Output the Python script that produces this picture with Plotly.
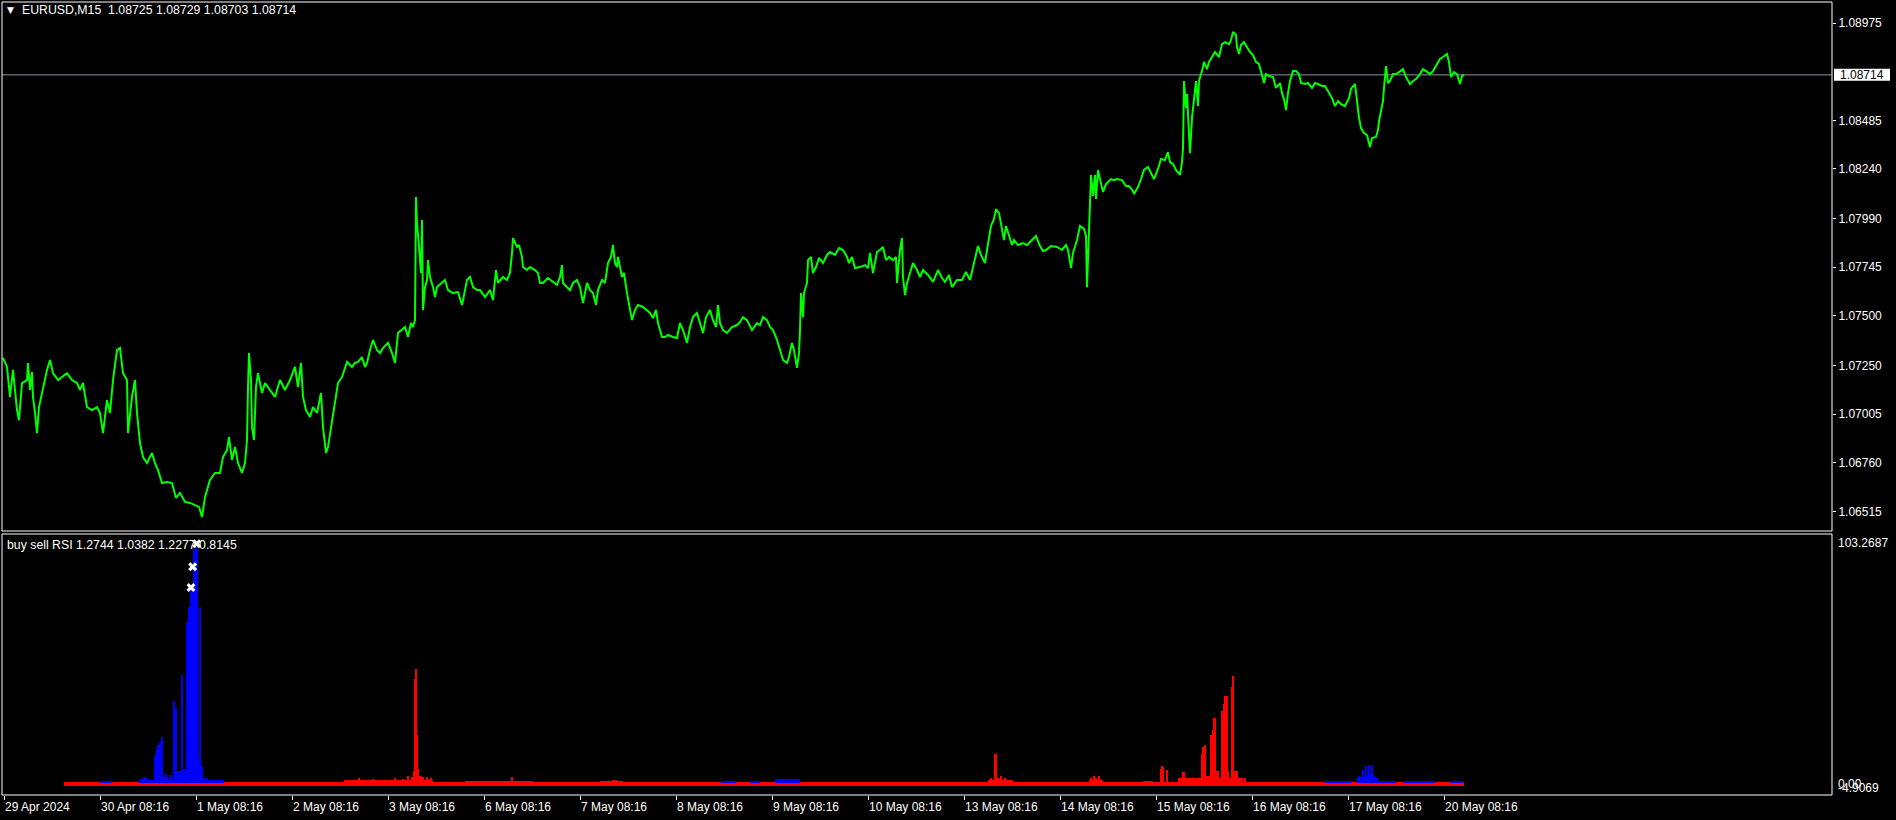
import plotly.graph_objects as go

# ---------------- data ----------------
# bar index (M15 bars from the left edge) and close prices
price_bar = [0, 4, 7, 10, 14, 16, 19, 24, 25, 27, 29, 30, 32, 34, 36, 40, 44, 47, 50, 55, 59, 64, 69, 74, 77, 80, 84, 89, 94, 97,
             100, 104, 107, 110, 114, 117, 120, 124, 125, 129, 132, 134, 137, 140, 144, 149, 152, 155, 159, 164, 169, 173, 177, 182, 187, 192, 196, 199, 202, 207,
             212, 217, 220, 224, 226, 229, 232, 235, 239, 242, 244, 245, 246, 248, 249, 251, 253, 255, 259, 262, 267, 272, 277, 282, 287, 292, 295, 298, 300, 303,
             307, 310, 314, 318, 320, 323, 325, 329, 332, 335, 339, 344, 349, 352, 355, 359, 362, 364, 367, 370, 374, 377, 380, 385, 389, 392, 395, 399, 402, 405,
             408, 410, 412, 413, 414, 416, 418, 419, 420, 422, 424, 425, 427, 430, 432, 434, 439, 442, 445, 450, 455, 459, 462, 464, 467, 470, 474,
             477, 482, 487, 490, 493, 495, 500, 504, 507, 509, 510, 514, 516, 519, 520, 524, 527, 532, 535, 537, 540, 545, 550, 554, 557, 559, 560, 564, 567, 570,
             574, 577, 580, 582, 584, 587, 590, 593, 595, 599, 602, 605, 608, 610, 612, 614, 615, 619, 621, 624, 626, 629, 632, 635, 640, 644, 647, 650, 653, 655,
             659, 662, 665, 670, 674, 677, 680, 684, 687, 690, 694, 697, 700, 703, 707, 710, 713, 715, 717, 720, 724, 729, 734, 737, 740, 744, 749, 754, 757, 760,
             764, 767, 770, 774, 777, 780, 784, 786, 789, 791, 794, 796, 797, 798, 800, 801, 804, 805, 808, 810, 813, 816, 820, 824, 827, 832, 836, 840, 844, 846,
             849, 852, 857, 862, 865, 867, 870, 874, 877, 880, 883, 886, 890, 893, 894, 897, 899, 900, 902, 904, 907, 910, 914, 917, 920, 925, 930, 935, 939, 942, 946,
             949, 954, 959, 963, 967, 971, 975, 978, 982, 984, 988, 991, 993, 996, 998, 1001, 1003, 1006, 1009, 1011, 1015, 1020, 1024, 1028, 1033, 1037, 1040, 1043, 1048, 1054,
             1059, 1063, 1065, 1068, 1070, 1074, 1077, 1081, 1083, 1084, 1086, 1087, 1088, 1090, 1092, 1093, 1095, 1097, 1100, 1103, 1108, 1111, 1114, 1119, 1123, 1126, 1130, 1131, 1135, 1138,
             1141, 1145, 1148, 1151, 1155, 1158, 1162, 1165, 1167, 1170, 1173, 1177, 1179, 1180, 1181, 1183, 1184, 1186, 1187, 1189, 1190, 1193, 1195, 1196, 1199, 1201, 1204, 1206, 1209, 1212,
             1216, 1219, 1222, 1226, 1228, 1230, 1233, 1234, 1236, 1238, 1241, 1244, 1247, 1250, 1253, 1256, 1259, 1261, 1263, 1266, 1270, 1273, 1277, 1279, 1281, 1283, 1285, 1287, 1290, 1293,
             1296, 1298, 1302, 1305, 1309, 1312, 1315, 1319, 1322, 1326, 1329, 1332, 1335, 1338, 1342, 1346, 1348, 1352, 1354, 1356, 1358, 1361, 1364, 1367, 1369, 1373, 1375, 1376, 1378, 1380,
             1381, 1383, 1385, 1387, 1390, 1393, 1396, 1400, 1403, 1407, 1410, 1413, 1417, 1420, 1423, 1427, 1430, 1434, 1437, 1440, 1444, 1446, 1448, 1451, 1454, 1457, 1459, 1461]

price_close = [1.07288, 1.07243, 1.07092, 1.07228, 1.07026, 1.06976, 1.07162, 1.07177, 1.07263, 1.07127, 1.07217, 1.07092, 1.07011, 1.06910, 1.07041, 1.07142, 1.07228, 1.07278, 1.07212, 1.07177,
               1.07192, 1.07212, 1.07177, 1.07162, 1.07127, 1.07162, 1.07041, 1.07026, 1.07041, 1.07011,
               1.06910, 1.07076, 1.07011, 1.07177, 1.07328, 1.07338, 1.07212, 1.07177, 1.06910, 1.07092, 1.07177, 1.07011, 1.06860, 1.06789, 1.06759, 1.06810, 1.06759, 1.06724, 1.06658, 1.06663,
               1.06658, 1.06583, 1.06608, 1.06563, 1.06558, 1.06548, 1.06538, 1.06487, 1.06588, 1.06674,
               1.06709, 1.06709, 1.06789, 1.06825, 1.06890, 1.06774, 1.06840, 1.06759, 1.06709, 1.06759, 1.06875, 1.07142, 1.07313, 1.07177, 1.06940, 1.06875, 1.07142, 1.07212, 1.07112, 1.07162,
               1.07127, 1.07092, 1.07177, 1.07127, 1.07177, 1.07243, 1.07142, 1.07263, 1.07092, 1.07026,
               1.06991, 1.07041, 1.07011, 1.07112, 1.06940, 1.06810, 1.06840, 1.06976, 1.07076, 1.07162, 1.07192, 1.07268, 1.07243, 1.07263, 1.07268, 1.07293, 1.07243, 1.07263, 1.07328, 1.07379,
               1.07328, 1.07313, 1.07338, 1.07364, 1.07313, 1.07263, 1.07414, 1.07429, 1.07444, 1.07394,
               1.07464, 1.07444, 1.07479, 1.08099, 1.07968, 1.07847, 1.07716, 1.07983, 1.07530, 1.07645, 1.07681, 1.07781, 1.07696, 1.07645, 1.07595, 1.07645, 1.07666, 1.07681, 1.07630, 1.07615,
               1.07620, 1.07555, 1.07630, 1.07681, 1.07696, 1.07645, 1.07630,
               1.07630, 1.07595, 1.07630, 1.07580, 1.07731, 1.07666, 1.07696, 1.07681, 1.07716, 1.07817, 1.07892, 1.07847, 1.07857, 1.07797, 1.07746, 1.07731, 1.07746, 1.07731, 1.07716, 1.07666,
               1.07666, 1.07691, 1.07671, 1.07656, 1.07696, 1.07756, 1.07666, 1.07645, 1.07630, 1.07666,
               1.07681, 1.07645, 1.07565, 1.07615, 1.07666, 1.07630, 1.07615, 1.07555, 1.07630, 1.07681, 1.07666, 1.07766, 1.07797, 1.07857, 1.07766, 1.07746, 1.07797, 1.07696, 1.07716, 1.07615,
               1.07565, 1.07479, 1.07530, 1.07555, 1.07545, 1.07530, 1.07515, 1.07489, 1.07530, 1.07464,
               1.07394, 1.07394, 1.07404, 1.07394, 1.07389, 1.07464, 1.07429, 1.07364, 1.07444, 1.07494, 1.07515, 1.07464, 1.07414, 1.07494, 1.07530, 1.07479, 1.07444, 1.07555, 1.07464, 1.07429,
               1.07414, 1.07444, 1.07454, 1.07469, 1.07494, 1.07479, 1.07429, 1.07464, 1.07454, 1.07494,
               1.07479, 1.07444, 1.07429, 1.07379, 1.07328, 1.07278, 1.07263, 1.07293, 1.07364, 1.07328, 1.07238, 1.07313, 1.07429, 1.07615, 1.07494, 1.07615, 1.07666, 1.07781, 1.07797, 1.07716,
               1.07746, 1.07792, 1.07766, 1.07807, 1.07822, 1.07807, 1.07842, 1.07832, 1.07797, 1.07766,
               1.07797, 1.07741, 1.07746, 1.07756, 1.07741, 1.07817, 1.07716, 1.07822, 1.07832, 1.07847, 1.07781, 1.07797, 1.07781, 1.07797, 1.07666, 1.07832, 1.07892, 1.07696, 1.07605, 1.07666,
               1.07716, 1.07766, 1.07731, 1.07696, 1.07731, 1.07706, 1.07671, 1.07731, 1.07691, 1.07671, 1.07706,
               1.07645, 1.07681, 1.07681, 1.07721, 1.07681, 1.07766, 1.07852, 1.07807, 1.07766, 1.07832, 1.07953, 1.07988, 1.08038, 1.08018, 1.07968, 1.07882, 1.07953, 1.07902, 1.07857, 1.07882,
               1.07857, 1.07867, 1.07857, 1.07877, 1.07902, 1.07852, 1.07827, 1.07832, 1.07852, 1.07847,
               1.07832, 1.07857, 1.07832, 1.07741, 1.07817, 1.07882, 1.07953, 1.07938, 1.07902, 1.07645, 1.07968, 1.08073, 1.08210, 1.08104, 1.08210, 1.08089, 1.08235, 1.08189, 1.08124, 1.08164,
               1.08189, 1.08184, 1.08189, 1.08184, 1.08154, 1.08154, 1.08129, 1.08114, 1.08149, 1.08189,
               1.08235, 1.08250, 1.08215, 1.08189, 1.08240, 1.08290, 1.08285, 1.08325, 1.08275, 1.08265, 1.08235, 1.08210, 1.08275, 1.08345, 1.08683, 1.08547, 1.08617, 1.08446, 1.08320, 1.08497,
               1.08547, 1.08683, 1.08557, 1.08683, 1.08733, 1.08779, 1.08743, 1.08779, 1.08804, 1.08829,
               1.08804, 1.08869, 1.08879, 1.08869, 1.08889, 1.08930, 1.08915, 1.08854, 1.08819, 1.08864, 1.08879, 1.08854, 1.08829, 1.08814, 1.08779, 1.08769, 1.08718, 1.08673, 1.08718, 1.08708,
               1.08703, 1.08648, 1.08673, 1.08622, 1.08592, 1.08537, 1.08622, 1.08683, 1.08733, 1.08733,
               1.08718, 1.08673, 1.08668, 1.08673, 1.08648, 1.08673, 1.08668, 1.08658, 1.08658, 1.08622, 1.08597, 1.08557, 1.08582, 1.08567, 1.08557, 1.08597, 1.08643, 1.08668, 1.08582, 1.08497,
               1.08446, 1.08421, 1.08411, 1.08350, 1.08396, 1.08401, 1.08436, 1.08481, 1.08532, 1.08582,
               1.08648, 1.08758, 1.08673, 1.08683, 1.08718, 1.08718, 1.08728, 1.08743, 1.08703, 1.08668, 1.08683, 1.08693, 1.08718, 1.08743, 1.08733, 1.08718, 1.08733, 1.08769, 1.08794, 1.08804,
               1.08819, 1.08779, 1.08703, 1.08728, 1.08718, 1.08668, 1.08708, 1.08714]

last_price = 1.08714
header_text = "EURUSD,M15\u00a0\u00a01.08725 1.08729 1.08703 1.08714"
indicator_text = "buy sell RSI 1.2744 1.0382 1.2277 0.8145"

price_ticks = [1.08975, 1.08485, 1.08240, 1.07990, 1.07745, 1.07500, 1.07250, 1.07005, 1.06760, 1.06515]
price_range = [1.064167, 1.090810]
ind_range = [-4.9069, 103.2687]
ind_labels = ["103.2687", "0.00", "-4.9069"]

date_bars = [1, 97, 193, 289, 385, 481, 577, 673, 769, 865, 961, 1057, 1153, 1249, 1345, 1441]
date_text = ["29 Apr 2024", "30 Apr 08:16", "1 May 08:16", "2 May 08:16", "3 May 08:16", "6 May 08:16",
             "7 May 08:16", "8 May 08:16", "9 May 08:16", "10 May 08:16", "13 May 08:16", "14 May 08:16",
             "15 May 08:16", "16 May 08:16", "17 May 08:16", "20 May 08:16"]

# indicator: sell (red) spikes
sell_bar = [342, 350, 356, 362, 370, 380, 392, 400, 405, 409, 411, 412, 413, 414, 415, 416, 418, 420, 424, 428,
            509, 610, 613, 988, 992, 993, 995, 998, 1002, 1088, 1091, 1093, 1096,
            1158, 1159, 1160, 1164, 1180, 1181, 1192, 1199, 1200, 1201, 1202, 1204, 1206, 1208, 1210, 1211, 1212, 1213, 1215,
            1219, 1220, 1221, 1222, 1223, 1224, 1225, 1229, 1230, 1231, 1233, 1234, 1238, 1242]
sell_val = [1.5, 1.5, 2.0, 1.5, 1.8, 1.5, 2.0, 1.8, 3.0, 2.5, 5.0, 43.0, 47.5, 20.0, 6.0, 3.0, 3.0, 2.5, 2.5, 2.0,
            2.5, 1.5, 1.5, 2.0, 12.0, 12.0, 2.0, 3.0, 2.0, 2.0, 3.0, 2.0, 3.0,
            6.0, 7.0, 6.5, 5.6, 4.6, 4.6, 2.0, 12.0, 15.0, 15.0, 16.0, 3.0, 3.0, 20.0, 22.0, 27.0, 27.0, 5.0, 5.0,
            30.0, 30.0, 33.0, 36.0, 36.0, 36.0, 5.0, 40.0, 44.5, 5.0, 5.0, 5.0, 2.0, 2.0]

# indicator: buy (blue) spikes
buy_bar = [139, 142, 144, 147, 150, 152, 153, 154, 155, 157, 159, 161, 163, 165, 168, 171, 173, 174, 176, 178,
           179, 180, 182, 184, 185, 186, 187, 188, 189, 190, 191, 192, 193, 194, 195, 196, 197, 198, 199, 201, 204,
           1356, 1358, 1360, 1362, 1363, 1365, 1366, 1368, 1369, 1371, 1374]
buy_val = [2.0, 2.6, 2.0, 1.5, 1.5, 11.0, 12.0, 14.0, 16.0, 17.0, 19.0, 2.5, 4.0, 2.5, 3.5, 34.0, 31.0, 5.0, 5.0, 5.0,
           45.0, 6.0, 6.0, 67.0, 67.0, 73.0, 73.0, 82.0, 82.0, 82.0, 97.0, 97.0, 98.0, 98.0, 10.0, 10.0, 73.0, 7.0, 7.0, 2.0, 2.0,
           3.0, 2.5, 5.6, 3.0, 7.0, 3.5, 7.4, 4.0, 7.5, 3.0, 2.0]

# indicator: low-level bands (start bar, end bar, bottom, top)
sell_band_start = [61, 342, 462, 597, 985, 1086, 1140, 1175]
sell_band_end = [1461, 430, 530, 620, 1010, 1100, 1150, 1240]
sell_band_low = [-1.2, 0.0, 0.0, 0.0, 0.0, 0.0, 0.0, 0.0]
sell_band_high = [0.5, 1.4, 1.1, 1.0, 1.5, 1.5, 1.0, 2.0]

buy_band_start = [97, 136, 718, 747, 772, 1322, 1354, 1374, 1401, 1447]
buy_band_end = [109, 221, 733, 757, 797, 1349, 1374, 1393, 1432, 1460]
buy_band_low = [0.2, 0.2, 0.2, 0.2, 0.2, 0.2, 0.2, 0.2, 0.2, 0.2]
buy_band_high = [1.0, 1.5, 1.0, 1.0, 1.6, 1.0, 2.0, 1.0, 1.0, 1.0]

signal_bar = [193.7, 189.7, 188.0]
signal_val = [99.2, 89.7, 81.1]

# ---------------- figure ----------------
FONT = "Liberation Sans"
W, H = 1896, 820
ML, MR, MT, MB = 2, 64, 2, 25
PH = H - MT - MB            # plot height in px
PW = W - ML - MR            # plot width in px
main_bottom = (H - MB - 531) / PH
ind_top = (H - MB - 534) / PH
X_RANGE = [-1, PW - 1]

fig = go.Figure()

fig.add_trace(go.Scatter(x=price_bar, y=price_close, mode="lines",
                         line=dict(color="#00FF00", width=2), xaxis="x", yaxis="y",
                         hoverinfo="skip", showlegend=False))

# bands
fig.add_trace(go.Bar(x=[(s + e) / 2 for s, e in zip(sell_band_start, sell_band_end)],
                     width=[e - s for s, e in zip(sell_band_start, sell_band_end)],
                     base=sell_band_low,
                     y=[h - l for h, l in zip(sell_band_high, sell_band_low)],
                     marker=dict(color="#FF0000", line=dict(width=0)),
                     xaxis="x2", yaxis="y2", showlegend=False, hoverinfo="skip"))
fig.add_trace(go.Bar(x=[(s + e) / 2 for s, e in zip(buy_band_start, buy_band_end)],
                     width=[e - s for s, e in zip(buy_band_start, buy_band_end)],
                     base=buy_band_low,
                     y=[h - l for h, l in zip(buy_band_high, buy_band_low)],
                     marker=dict(color="#0000FF", line=dict(width=0)),
                     xaxis="x2", yaxis="y2", showlegend=False, hoverinfo="skip"))
# spikes
fig.add_trace(go.Bar(x=sell_bar, y=sell_val, width=1.6,
                     marker=dict(color="#FF0000", line=dict(width=0)),
                     xaxis="x2", yaxis="y2", showlegend=False, hoverinfo="skip"))
fig.add_trace(go.Bar(x=buy_bar, y=buy_val, width=1.6,
                     marker=dict(color="#0000FF", line=dict(width=0)),
                     xaxis="x2", yaxis="y2", showlegend=False, hoverinfo="skip"))
fig.add_trace(go.Scatter(x=signal_bar, y=signal_val, mode="markers",
                         marker=dict(symbol="x", size=8, color="white", line=dict(width=0)),
                         xaxis="x2", yaxis="y2", showlegend=False, hoverinfo="skip"))

axis_common = dict(showgrid=False, zeroline=False, fixedrange=True)
fig.update_layout(
    width=W, height=H,
    margin=dict(l=ML, r=MR, t=MT, b=MB, pad=0),
    paper_bgcolor="black", plot_bgcolor="black",
    barmode="overlay", bargap=0,
    font=dict(family=FONT, size=12, color="white"),
    xaxis=dict(domain=[0, 1], range=X_RANGE, anchor="y", showticklabels=False, ticks="", **axis_common),
    yaxis=dict(domain=[main_bottom, 1], range=price_range, side="right", anchor="x",
               tickvals=price_ticks, ticktext=[f"{v:.5f}" for v in price_ticks],
               ticks="outside", ticklen=3, tickcolor="white", tickwidth=1,
               tickfont=dict(family=FONT, size=12, color="white"), **axis_common),
    xaxis2=dict(domain=[0, 1], range=X_RANGE, anchor="y2", tickvals=date_bars,
                ticks="outside", ticklen=4, tickcolor="white", showticklabels=False, **axis_common),
    yaxis2=dict(domain=[0, ind_top], range=ind_range, side="right", anchor="x2",
                showticklabels=False, ticks="", **axis_common),
)

# panel borders
for y0, y1 in [(main_bottom, 1), (0, ind_top)]:
    fig.add_shape(type="rect", xref="paper", yref="paper", x0=0, x1=1, y0=y0, y1=y1,
                  line=dict(color="white", width=1), fillcolor="rgba(0,0,0,0)", layer="above")

# current price line and box
fig.add_shape(type="line", xref="paper", yref="y", x0=0, x1=1, y0=last_price, y1=last_price,
              line=dict(color="#8a98a6", width=1), layer="below")
px_per_price = (531 - 2) / (price_range[1] - price_range[0])
fig.add_shape(type="rect", xref="paper", yref="y",
              x0=1 + 2 / PW, x1=1 + 58 / PW,
              y0=last_price - 6 / px_per_price, y1=last_price + 6 / px_per_price,
              fillcolor="white", line=dict(width=0), layer="above")
fig.add_annotation(text=f"{last_price:.5f}", xref="paper", yref="y", x=1 + 30 / PW, y=last_price,
                   xanchor="center", yanchor="middle", showarrow=False,
                   font=dict(family=FONT, size=12, color="black"), borderpad=0)

def py(px):
    return (H - MB - px) / PH

def pxx(px):
    return (px - ML) / PW

# header texts
fig.add_annotation(text="\u25BC", xref="paper", yref="paper", x=pxx(6), y=py(10),
                   xanchor="left", yanchor="middle", showarrow=False,
                   font=dict(family="DejaVu Sans", size=9, color="white"), borderpad=0)
fig.add_annotation(text=header_text, xref="paper", yref="paper", x=pxx(21), y=py(10),
                   xanchor="left", yanchor="middle", showarrow=False,
                   font=dict(family=FONT, size=12.3, color="white"), borderpad=0)
fig.add_annotation(text=indicator_text, xref="paper", yref="paper", x=pxx(6), y=py(545),
                   xanchor="left", yanchor="middle", showarrow=False,
                   font=dict(family=FONT, size=12.3, color="white"), borderpad=0)

# indicator scale labels
for txt, ypx in zip(ind_labels, [543, 784, 788]):
    fig.add_annotation(text=txt, xref="paper", yref="paper", x=pxx(1837), y=py(ypx),
                       xanchor="left", yanchor="middle", showarrow=False,
                       font=dict(family=FONT, size=12, color="white"), borderpad=0)

# date labels (left-aligned at their tick)
for b, t in zip(date_bars, date_text):
    fig.add_annotation(text=t, x=b, xref="x2", y=py(807), yref="paper",
                       xanchor="left", yanchor="middle", showarrow=False,
                       font=dict(family=FONT, size=12, color="white"), borderpad=0)

fig.write_html("out.html", config={"displayModeBar": False, "staticPlot": True},
               post_script="document.body.style.margin='0';document.body.style.background='black';")
